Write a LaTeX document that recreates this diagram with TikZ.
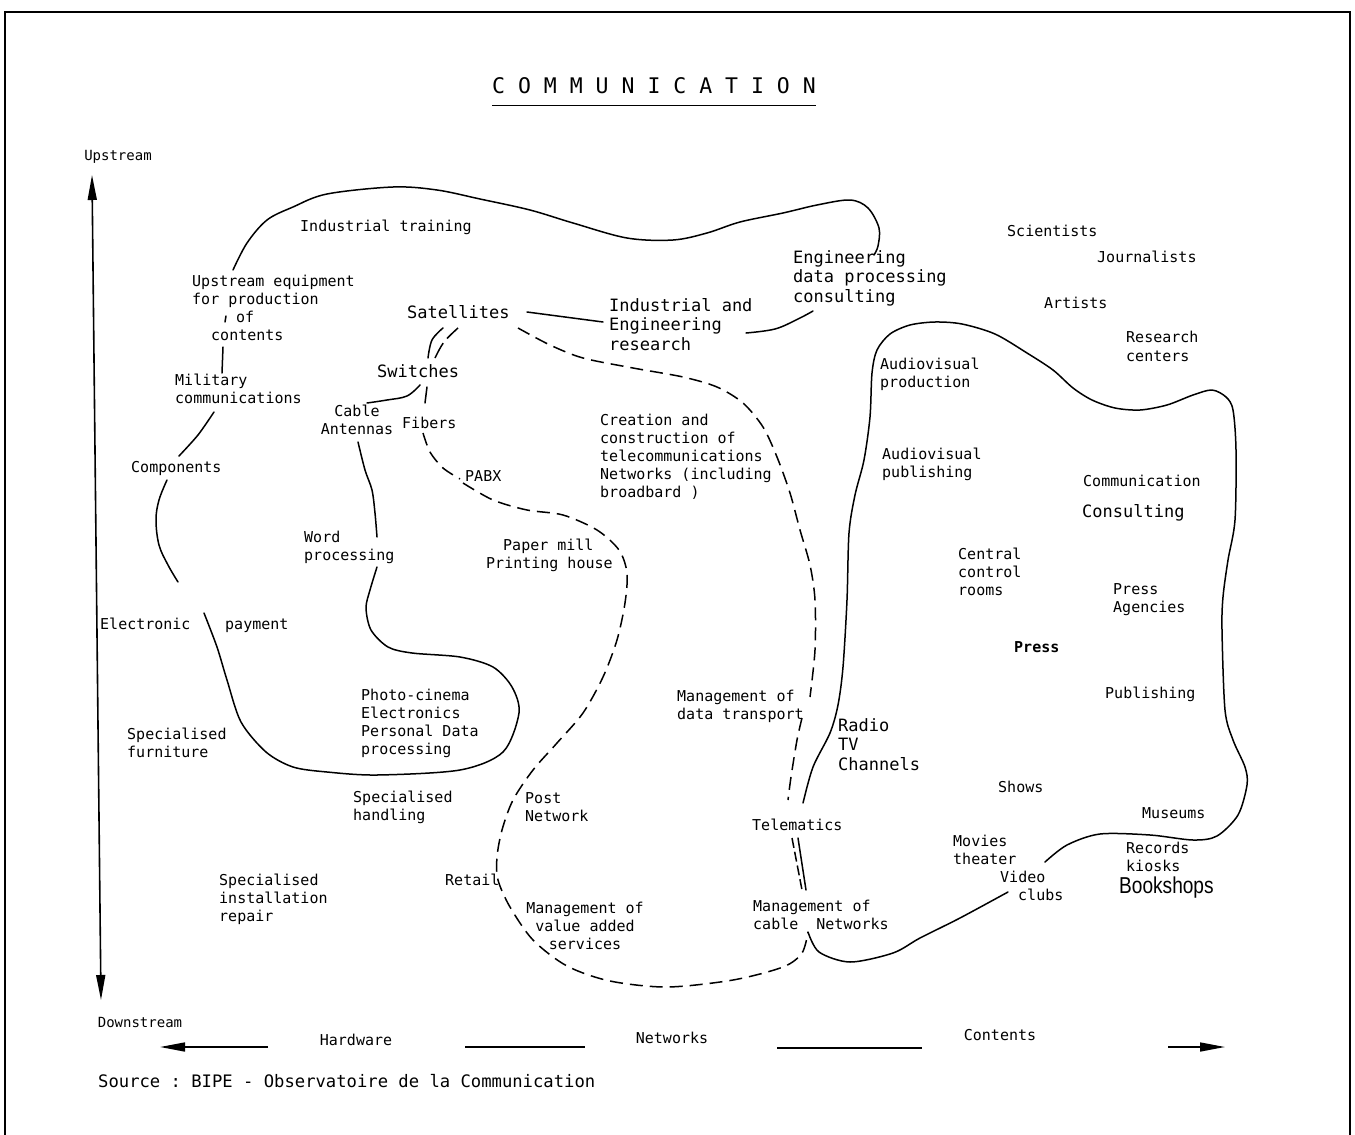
\documentclass[tikz,border=0pt]{standalone}
\usepackage{fontspec}
\usepackage{graphicx}
\setmonofont{DejaVu Sans Mono}
\newfontfamily\booksfont{Liberation Sans}
\usetikzlibrary{arrows.meta}

\begin{document}
\begin{tikzpicture}[x=1pt,y=-1pt,
  lbl/.style={anchor=north west, inner sep=0pt, yshift=7.6pt, align=left,
    font=\ttfamily\fontsize{15}{18}\selectfont, execute at begin node=\strut},
  lblc/.style={lbl, anchor=north, align=center},
  wide/.style={lbl, yshift=0.4pt, font=\ttfamily\fontsize{17}{19.5}\selectfont},
  axis/.style={inner sep=0pt, font=\ttfamily\fontsize{14}{16}\selectfont},
  curve/.style={line width=1.5pt, line join=round, line cap=round},
  dashcurve/.style={line width=1.5pt, dash pattern=on 13pt off 7pt},
  bigtip/.tip={Triangle[length=25pt,width=9pt]},
]
\useasboundingbox (0,0) rectangle (1355,1135);

% page frame
\draw[line width=1.8pt] (5,1135) -- (5,12) -- (1350,12) -- (1350,1135);

% title
\node[inner sep=0pt, font=\ttfamily\fontsize{21.5}{24}\selectfont] (title) at (654,86) {C O M M U N I C A T I O N};
\draw[line width=1.5pt] ([yshift=-11pt]title.south west) -- ([yshift=-11pt]title.south east);

% vertical axis
\coordinate (uptip) at (92,175);
\coordinate (downtip) at (101,1000);
\draw[line width=1.6pt, bigtip-bigtip] (uptip) -- (downtip);
\node[axis] (upstream) at (118,157) {Upstream};
\node[axis] (downstream) at (140,1022) {Downstream};

% horizontal axis
\node[axis, font=\ttfamily\fontsize{15}{18}\selectfont] (hardware) at (356,1040) {Hardware};
\node[axis, font=\ttfamily\fontsize{15}{18}\selectfont] (networks) at (672,1038) {Networks};
\node[axis, font=\ttfamily\fontsize{15}{18}\selectfont] (contents) at (1000,1035) {Contents};
\coordinate (lefttip) at (160,1047);
\coordinate (leftend) at (268,1047);
\coordinate (seg1a) at (465,1047);
\coordinate (seg1b) at (585,1047);
\coordinate (seg2a) at (777,1048);
\coordinate (seg2b) at (922,1048);
\coordinate (rightend) at (1168,1047);
\coordinate (righttip) at (1225,1047);
\draw[line width=1.6pt, -bigtip] (leftend) -- (lefttip);
\draw[line width=1.6pt] (seg1a) -- (seg1b);
\draw[line width=1.6pt] (seg2a) -- (seg2b);
\draw[line width=1.6pt, -bigtip] (rightend) -- (righttip);

\node[anchor=west, inner sep=0pt, font=\ttfamily\fontsize{17.2}{19.5}\selectfont] (source) at (98,1081) {Source : BIPE - Observatoire de la Communication};

% ---------- labels ----------
\node[lbl] (indtrain) at (300,226) {Industrial training};
\node[lbl] (upeq) at (192,282) {Upstream equipment\\for production\\\hspace*{44pt}of\\\hspace*{19pt}contents};
\node[lbl] (military) at (175,381) {Military\\communications};
\node[lbl] (components) at (131,467) {Components};
\node[lbl] (electronic) at (100,624) {Electronic};
\node[lbl] (payment) at (225,624) {payment};
\node[lbl] (word) at (304,538) {Word\\processing};
\node[lbl] (photo) at (361,696) {Photo-cinema\\Electronics\\Personal Data\\processing};
\node[lbl] (furniture) at (127,735) {Specialised\\furniture};
\node[lbl] (handling) at (353,798) {Specialised\\handling};
\node[lbl] (install) at (219,881) {Specialised\\installation\\repair};
\node[lblc] (cable) at (357,412) {Cable\\Antennas};
\node[wide] (switches) at (377,372) {Switches};
\node[wide] (satellites) at (407,313) {Satellites};
\node[lbl] (fibers) at (402,423) {Fibers};
\node[lbl] (pabx) at (465,476) {PABX};
\node[wide] (indres) at (609,306) {Industrial and\\Engineering\\research};
\node[wide] (engcons) at (793,258) {Engineering\\data processing\\consulting};
\node[lbl] (creation) at (600,421) {Creation and\\construction of\\telecommunications\\Networks (including\\broadbard )};
\node[lbl] (paper) at (486,546) {\hspace*{17pt}Paper mill\\Printing house};
\node[lbl] (mgmtdata) at (677,697) {Management of\\data transport};
\node[wide] (radio) at (838,726) {Radio\\TV\\Channels};
\node[lbl] (post) at (525,800) {Post\\Network};
\node[lbl] (telematics) at (752,825) {Telematics};
\node[lbl] (retail) at (445,880) {Retail};
\node[lblc] (vas) at (585,909) {Management of\\value added\\services};
\node[lbl] (cablenet) at (753,907) {Management of\\cable~~Networks};

\node[lbl] (scientists) at (1007,231) {Scientists};
\node[lbl] (journalists) at (1097,257) {Journalists};
\node[lbl] (artists) at (1044,303) {Artists};
\node[lbl] (research) at (1126,339) {Research\\centers};
\node[lbl] (avprod) at (880,365) {Audiovisual\\production};
\node[lbl] (avpub) at (882,455) {Audiovisual\\publishing};
\node[lbl] (commu) at (1083,481) {Communication};
\node[wide] (consult) at (1082,512) {Consulting};
\node[lbl] (central) at (958,555) {Central\\control\\rooms};
\node[lbl] (pressag) at (1113,591) {Press\\Agencies};
\node[lbl, font=\ttfamily\bfseries\fontsize{15}{18}\selectfont] (press) at (1014,647) {Press};
\node[lbl] (publishing) at (1105,693) {Publishing};
\node[lbl] (shows) at (998,787) {Shows};
\node[lbl] (museums) at (1142,813) {Museums};
\node[lbl] (movies) at (953,842) {Movies\\theater};
\node[lbl] (video) at (1000,878) {Video\\\hspace*{18pt}clubs};
\node[lbl] (records) at (1126,849) {Records\\kiosks};
\node[anchor=west, inner sep=0pt, font=\booksfont\fontsize{23}{25}\selectfont] (bookshops) at (1119,888) {\scalebox{0.83}[1]{Bookshops}};

% ---------- solid outlines ----------
% upper arc over industrial training
\draw[curve] plot[smooth, tension=0.55] coordinates {(233,270) (247,243) (267,220) (293,207) (327,194) (393,187) (437,190) (480,199) (530,210) (573,223) (627,238) (673,240) (707,233) (740,222) (783,213) (817,205) (850,200) (868,208) (879,228) (878,246) (874,255)};
\draw[curve] plot[smooth, tension=0.6] coordinates {(746,333) (775,329) (798,319) (813,311)};
\draw[curve] (527,312) -- (603,322);
% left chain
\draw[curve] (226,316) -- (225,322);
\draw[curve] (223,347) -- (222,373);
\draw[curve] plot[smooth, tension=0.5] coordinates {(214,412) (198,435) (179,456)};
\draw[curve] plot[smooth, tension=0.6] coordinates {(167,480) (159,500) (156,520) (159,545) (168,565) (178,582)};
% switches cluster
\draw[curve] plot[smooth, tension=0.6] coordinates {(428,358) (432,340) (443,328)};
\draw[line width=1.5pt, dash pattern=on 17pt off 6pt] plot[smooth, tension=0.6] coordinates {(435,358) (444,342) (458,328)};
\draw[curve] plot[smooth, tension=0.6] coordinates {(420,385) (407,396) (387,400) (367,403)};
\draw[curve] (427,387) -- (425,403);
% word processing / photo-cinema loop
\draw[curve] plot[smooth, tension=0.5] coordinates {(358,442) (365,470) (372,490) (375,513) (377,537)};
\draw[curve] plot[smooth, tension=0.5] coordinates {(377,567) (370,590) (366,608) (371,630) (388,647) (412,653) (460,657) (493,667) (512,687) (519,713) (503,752) (460,770) (377,775) (327,772) (293,767) (266,752) (241,722) (227,680) (217,647) (204,613)};
% big contents outline
\draw[curve] plot[smooth, tension=0.5] coordinates {(803,803) (813,767) (830,733) (838,705) (843,667) (847,600) (849,533) (855,495) (864,460) (870,417) (872,373) (877,350) (890,334) (910,325) (935,322) (962,324) (995,334) (1027,353) (1053,370) (1073,388) (1092,400) (1115,408) (1140,410) (1167,405) (1193,395) (1212,390) (1226,397) (1233,410) (1236,450) (1235,520) (1228,560) (1223,597) (1222,630) (1225,710) (1233,740) (1245,767) (1247,785) (1238,815) (1217,836) (1193,840) (1150,835) (1100,834) (1067,845) (1045,862)};
\draw[curve] plot[smooth, tension=0.5] coordinates {(808,932) (819,952) (850,962) (893,953) (920,938) (960,918) (1008,892)};
% telematics to cable networks
\draw[curve] (798,838) -- (806,890);
\draw[line width=1.5pt, dash pattern=on 10pt off 4pt] (792,838) -- (802,890);

% ---------- dashed outlines ----------
\draw[dashcurve] plot[smooth, tension=0.5] coordinates {(423,433) (430,452) (443,468) (460,479)};
\draw[dashcurve] plot[smooth, tension=0.5] coordinates {(463,483) (493,500) (527,510) (563,515) (597,530) (619,550) (627,573) (625,603) (617,640) (603,677) (583,713) (557,743) (533,770) (513,800) (502,830) (497,857) (498,880) (510,907) (533,940) (567,966) (610,981) (667,987) (733,980) (783,967) (802,953) (808,932)};
\draw[dashcurve] plot[smooth, tension=0.5] coordinates {(518,328) (550,345) (583,358) (633,368) (683,377) (717,387) (743,403) (763,427) (777,457) (790,493) (800,530) (810,565) (815,600) (815,650) (810,697)};
\draw[dashcurve] plot[smooth, tension=0.5] coordinates {(802,718) (797,740) (791,777) (788,800)};
\end{tikzpicture}
\end{document}
